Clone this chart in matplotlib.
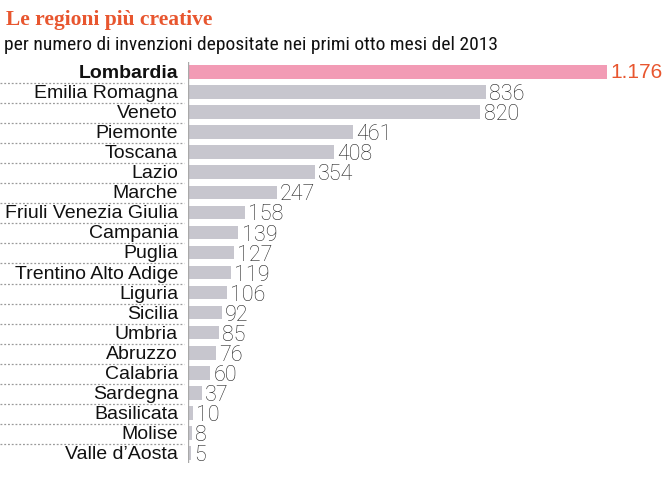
import matplotlib
matplotlib.use("Agg")
import matplotlib.pyplot as plt

regions = ["Lombardia", "Emilia Romagna", "Veneto", "Piemonte", "Toscana", "Lazio",
           "Marche", "Friuli Venezia Giulia", "Campania", "Puglia", "Trentino Alto Adige",
           "Liguria", "Sicilia", "Umbria", "Abruzzo", "Calabria", "Sardegna",
           "Basilicata", "Molise", "Valle d\u2019Aosta"]
values = [1176, 836, 820, 461, 408, 354, 247, 158, 139, 127, 119, 106, 92, 85, 76, 60, 37, 10, 8, 5]
value_labels = ["1.176", "836", "820", "461", "408", "354", "247", "158", "139", "127",
                "119", "106", "92", "85", "76", "60", "37", "10", "8", "5"]

W, H = 670, 490
fig = plt.figure(figsize=(W / 100, H / 100), dpi=100)
fig.patch.set_facecolor("white")

orange = "#e8562f"
pink = "#f29bb5"
gray = "#c7c6ce"

ax_left, ax_right = 188, 670
ax_top, ax_bot = 62, 463
ax = fig.add_axes([ax_left / W, 1 - ax_bot / H, (ax_right - ax_left) / W, (ax_bot - ax_top) / H])
n = len(regions)
ax.set_ylim(n - 0.5, -0.5)
px_per_unit = (607 - 189) / 1176.0
ax.set_xlim(-1 / px_per_unit, (ax_right - ax_left) / px_per_unit - 1 / px_per_unit)
ax.axis("off")

colors = [pink] + [gray] * (n - 1)
ys = list(range(n))
ax.barh(ys, values, height=0.68, color=colors, left=0)
ax.axvline(-2.8, color="#a9a9a9", lw=1.0)

for i, (v, lab) in enumerate(zip(values, value_labels)):
    if i == 0:
        ax.text(v + 9, i + 0.02, lab, va="center", ha="left", fontsize=15,
                color=orange, family="Liberation Sans")
    else:
        ax.text(v + 9, i + 0.13, lab, va="center", ha="left", fontsize=15.5,
                color="#222222", family="Roboto", fontweight="light")

# labels and dotted separators in figure pixel space
for i, name in enumerate(regions):
    yc = 73 + i * 20.05
    fig.text(178 / W, 1 - (yc + 0.5) / H, name, ha="right", va="center", fontsize=14,
             family="Liberation Sans", fontweight="bold" if i == 0 else "normal",
             color="#111111")
for i in range(n - 1):
    ysep = 73 + (i + 0.5) * 20.05
    fig.add_artist(plt.Line2D([0, 184 / W], [1 - ysep / H, 1 - ysep / H],
                              color="#9a9a9a", lw=0.9, ls=(0, (1.5, 1.5)),
                              transform=fig.transFigure))

fig.text(6 / W, 1 - 20.5 / H, "Le regioni pi\u00f9 creative", ha="left", va="center",
         fontsize=15.5, family="Liberation Serif", fontweight="bold", color=orange)
fig.text(4 / W, 1 - 44.5 / H, "per numero di invenzioni depositate nei primi otto mesi del 2013",
         ha="left", va="center", fontsize=14, family=["Roboto Condensed", "Liberation Sans"],
         color="#111111")

fig.savefig("out.png", dpi=100, facecolor="white")
